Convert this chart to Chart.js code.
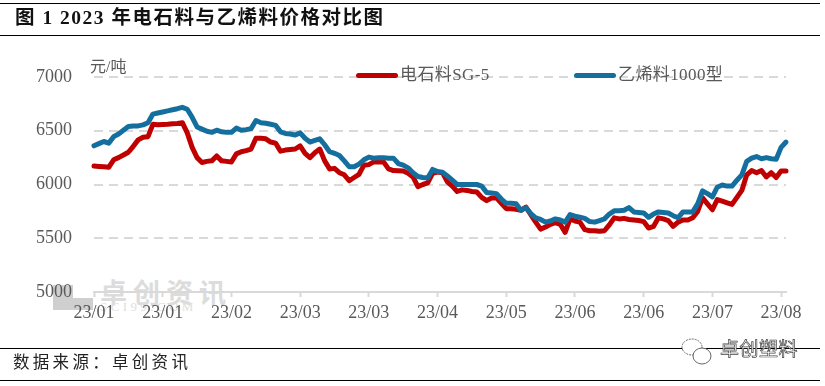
<!DOCTYPE html>
<html>
<head>
<meta charset="utf-8">
<script src="https://cdn.jsdelivr.net/npm/chart.js@4"></script>
<style>
  html, body { margin:0; padding:0; background:#fff; }
  #wrap { position:relative; width:825px; height:386px; overflow:hidden; font-family:"Liberation Serif","Noto Sans CJK SC",serif; }
  #wrap canvas { position:absolute; left:0; top:0; }
  .rule { position:absolute; left:0; width:820px; height:1px; background:#000; }
  .txt { position:absolute; white-space:pre; line-height:1; }
  #title { left:15px; top:8px; font-size:19.5px; font-weight:bold; letter-spacing:1.5px; color:#111; }
  #source { left:13px; top:355px; font-size:16.5px; letter-spacing:3.3px; color:#222; }
  #unit { left:90px; top:59px; font-size:16px; color:#595959; }
  .key { position:absolute; height:5px; width:42px; top:73px; border-radius:3px; }
  .keytxt { top:66px; font-size:17px; letter-spacing:0.4px; color:#595959; }
  #wm1 { left:100px; top:281px; font-size:27px; letter-spacing:6px; color:#dcdcdc; font-weight:bold; }
  #wm2 { left:100px; top:300px; font-size:13px; letter-spacing:3.4px; color:#e0e0e0; }
  #wmbox { position:absolute; left:53px; top:285px; width:20px; height:25px; background:#cfcfcf; }
  #wmbox2 { position:absolute; left:73px; top:298px; width:20px; height:12px; background:#cfcfcf; }
  #brand { left:720px; top:340px; font-size:19px; color:#fff; -webkit-text-stroke:0.7px #444; letter-spacing:0.5px; }
  #wechat { position:absolute; left:680px; top:336px; }
</style>
</head>
<body>
<div id="wrap">
  <div id="wmbox"></div>
  <div id="wmbox2"></div>
  <div class="txt" id="wm1">卓创资讯</div>
  <div class="txt" id="wm2">SCI99.COM</div>
  <canvas id="chart" width="825" height="386"></canvas>
  <div class="rule" style="top:3px"></div>
  <div class="rule" style="top:35px"></div>
  <div class="rule" style="top:348px"></div>
  <div class="rule" style="top:380px"></div>
  <div class="txt" id="title">图 1 2023 年电石料与乙烯料价格对比图</div>
  <div class="txt" id="source">数据来源：卓创资讯</div>
  <div class="txt" id="unit">元/吨</div>
  <div id="legend"></div>
  <svg id="wechat" width="36" height="38" fill="#fff" stroke="#666" stroke-width="1">
    <ellipse cx="12" cy="11" rx="10" ry="8" stroke-dasharray="2 1"></ellipse>
    <ellipse cx="22" cy="20" rx="9" ry="8"></ellipse>
  </svg>
  <div class="txt" id="brand">卓创塑料</div>
</div>
<script>
// ---------- Data ----------
const monthLabels = ['23/01','23/01','23/02','23/03','23/03','23/04','23/05','23/06','23/06','23/07','23/08'];
const tickEvery = 14;
const yTicks = [5000,5500,6000,6500,7000];
const unitLabel = '元/吨';

const pvcCarbide = [
  6172,6168,6165,6160,6230,6250,6275,6300,6355,6415,6440,6445,6560,6555,
  6558,6560,6565,6568,6575,6480,6345,6250,6205,6215,6220,6265,6220,6215,
  6210,6285,6305,6315,6330,6430,6430,6425,6395,6385,6310,6320,6325,6330,
  6360,6290,6250,6295,6330,6220,6145,6150,6110,6090,6035,6065,6095,6180,
  6185,6210,6210,6210,6145,6130,6128,6125,6105,6070,5980,6000,6015,6105,
  6115,6110,6025,5985,5935,5950,5945,5935,5930,5880,5850,5875,5875,5825,
  5775,5775,5770,5760,5790,5720,5650,5585,5605,5630,5645,5630,5555,5680,
  5660,5650,5580,5570,5570,5565,5570,5625,5690,5680,5685,5675,5670,5665,
  5655,5595,5610,5690,5680,5665,5610,5650,5670,5670,5690,5750,5875,5820,
  5765,5860,5845,5830,5815,5880,5945,6090,6130,6110,6130,6070,6110,6065,
  6125,6125
];
const pvcEthylene = [
  6360,6380,6400,6385,6445,6470,6505,6540,6545,6545,6555,6575,6655,6665,
  6675,6685,6695,6705,6718,6700,6625,6535,6515,6495,6485,6505,6490,6485,
  6485,6525,6505,6510,6520,6595,6575,6570,6560,6550,6490,6475,6470,6460,
  6480,6430,6395,6410,6425,6370,6305,6290,6270,6220,6165,6165,6190,6230,
  6255,6245,6250,6250,6245,6245,6195,6180,6155,6110,6075,6065,6060,6140,
  6120,6115,6080,6040,6000,6000,6000,6000,6000,5985,5925,5920,5915,5865,
  5825,5825,5820,5760,5785,5730,5690,5675,5650,5660,5680,5670,5650,5720,
  5705,5695,5685,5655,5650,5665,5680,5725,5755,5755,5760,5785,5745,5740,
  5735,5695,5725,5745,5740,5735,5710,5690,5745,5745,5745,5820,5940,5915,
  5885,5975,5995,5985,5985,6040,6090,6215,6245,6260,6240,6250,6240,6235,
  6345,6395
];
const seriesNames = ['电石料SG-5','乙烯料1000型'];
const seriesColors = ['#c00000','#156f9e'];

// one category per trading day, only every 14th one carries a label
const categories = pvcCarbide.map((v,i) => monthLabels[Math.floor(i/tickEvery)]);

// ---------- Legend ----------
const legendEl = document.getElementById('legend');
const legendX = [356,574];
seriesNames.forEach((name,i) => {
  const bar = document.createElement('div');
  bar.className = 'key';
  bar.style.left = legendX[i]+'px';
  bar.style.background = seriesColors[i];
  legendEl.appendChild(bar);
  const t = document.createElement('div');
  t.className = 'txt keytxt';
  t.style.left = (legendX[i]+44)+'px';
  t.textContent = name;
  legendEl.appendChild(t);
});

// ---------- Chart ----------
const tickFont = { family:'"Liberation Serif"', size:18 };
new Chart(document.getElementById('chart').getContext('2d'), {
  type:'line',
  data:{
    labels: categories,
    datasets:[
      { label:seriesNames[0], data:pvcCarbide, borderColor:seriesColors[0], order:2 },
      { label:seriesNames[1], data:pvcEthylene, borderColor:seriesColors[1], order:1 }
    ]
  },
  options:{
    responsive:false,
    animation:false,
    layout:{ padding:{ top:77, right:39, bottom:64, left:0 } },
    elements:{
      line:{ borderWidth:5, tension:0, borderCapStyle:'round', borderJoinStyle:'round' },
      point:{ radius:0 }
    },
    datasets:{ line:{ clip:false } },
    plugins:{ legend:{ display:false }, tooltip:{ enabled:false } },
    scales:{
      x:{
        offset:false,
        grid:{ drawOnChartArea:false, drawTicks:true, tickLength:5, tickColor:'#d9d9d9', tickWidth:2 },
        border:{ color:'#d9d9d9', width:2 },
        afterFit: s => { s.height = 30; },
        ticks:{
          autoSkip:false, maxRotation:0, minRotation:0, padding:5,
          color:'#595959', font:tickFont,
          callback(v,i){ return i % tickEvery === 0 ? categories[i] : null; }
        }
      },
      y:{
        min:yTicks[0], max:yTicks[yTicks.length-1],
        afterFit: s => { s.width = 94; },
        afterBuildTicks: s => { s.ticks = yTicks.map(v => ({ value:v })); },
        grid:{ color:'#d9d9d9', lineWidth:2, drawTicks:false },
        border:{ display:false, dash:[9,6] },
        ticks:{ color:'#595959', font:tickFont, padding:22, callback: v => String(v) }
      }
    }
  }
});
</script>
</body>
</html>
